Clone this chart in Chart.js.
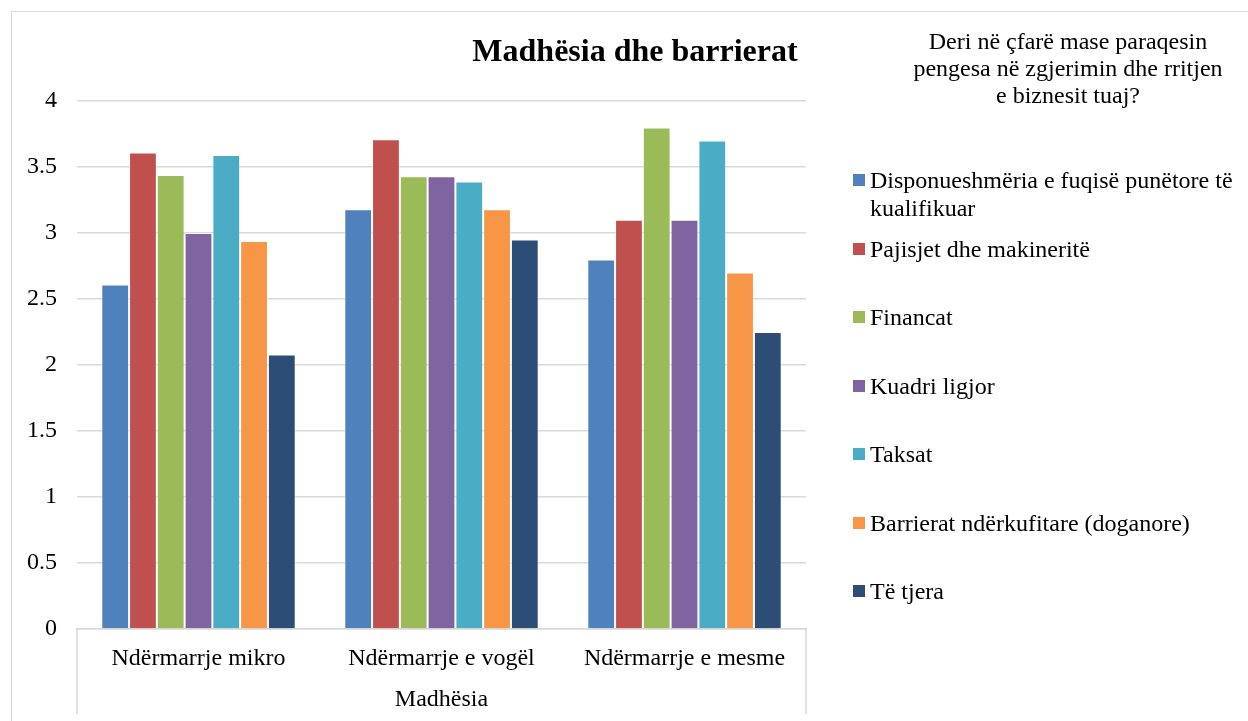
<!DOCTYPE html>
<html>
<head>
<meta charset="utf-8">
<script src="https://cdn.jsdelivr.net/npm/chart.js@4/dist/chart.umd.min.js"></script>
<style>
  html, body { margin: 0; padding: 0; background: #fff; }
  #wrap { position: relative; width: 1248px; height: 721px; overflow: hidden; background: #fff; }
  #frame { position: absolute; left: 11px; top: 11px; width: 1300px; height: 800px;
           border-top: 1px solid #d9d9d9; border-left: 1px solid #d9d9d9; box-sizing: border-box; }
  canvas { position: absolute; left: 0; top: 0; }
  #title { position: absolute; left: 385px; width: 500px; top: 31px; text-align: center;
           font: bold 32px "Liberation Serif", "Times New Roman", serif; color: #000; line-height: 38px; white-space: nowrap; }
  #legTitle { position: absolute; left: 910px; width: 316px; top: 28px; text-align: center;
              font: 24px "Liberation Serif", "Times New Roman", serif; color: #000; line-height: 27px; }
  .li { position: absolute; left: 853px; width: 395px; font: 24px "Liberation Serif", "Times New Roman", serif;
        color: #000; line-height: 28px; }
  .li .sw { position: absolute; left: 0; top: 8px; width: 12px; height: 12px; }
  .li .tx { margin-left: 17px; width: 375px; }
</style>
</head>
<body>
<div id="wrap">
  <div id="frame"></div>
  <canvas id="c" width="1248" height="721"></canvas>
  <div id="title"></div>
  <div id="legTitle"></div>
  <div id="legend"></div>
</div>
<script>
const chartTitle = "Madhësia dhe barrierat";
const legendTitle = "Deri në çfarë mase paraqesin pengesa në zgjerimin dhe rritjen e biznesit tuaj?";
const axisTitle = "Madhësia";
const categories = ["Ndërmarrje mikro", "Ndërmarrje e vogël", "Ndërmarrje e mesme"];
const seriesNames = [
  "Disponueshmëria e fuqisë punëtore të kualifikuar",
  "Pajisjet dhe makineritë",
  "Financat",
  "Kuadri ligjor",
  "Taksat",
  "Barrierat ndërkufitare (doganore)",
  "Të tjera"
];
const fuqia     = [2.61, 3.18, 2.80];
const pajisjet  = [3.61, 3.71, 3.10];
const financat  = [3.44, 3.43, 3.80];
const kuadri    = [3.00, 3.43, 3.10];
const taksat    = [3.59, 3.39, 3.70];
const barrierat = [2.94, 3.18, 2.70];
const tjera     = [2.08, 2.95, 2.25];
const yTicks = [0, 0.5, 1, 1.5, 2, 2.5, 3, 3.5, 4];

const seriesValues = [fuqia, pajisjet, financat, kuadri, taksat, barrierat, tjera];
const colors = ["#4F81BD", "#C0504D", "#9BBB59", "#8064A2", "#4BACC6", "#F79646", "#2C4D75"];
const serif = '"Liberation Serif", "Times New Roman", serif';

document.getElementById('title').textContent = chartTitle;
document.getElementById('legTitle').textContent = legendTitle;

const extraLines = {
  id: 'extraLines',
  afterDraw(chart) {
    const {ctx, chartArea} = chart;
    ctx.save();
    ctx.strokeStyle = '#d9d9d9';
    ctx.lineWidth = 1.5;
    ctx.beginPath();
    ctx.moveTo(chartArea.left, chartArea.bottom);
    ctx.lineTo(chartArea.left, 714);
    ctx.moveTo(chartArea.right, chartArea.bottom);
    ctx.lineTo(chartArea.right, 714);
    ctx.stroke();
    ctx.restore();
  }
};

const chart = new Chart(document.getElementById('c'), {
  type: 'bar',
  data: {
    labels: categories,
    datasets: seriesNames.map((n, i) => ({
      label: n,
      data: seriesValues[i],
      backgroundColor: colors[i],
      borderColor: 'rgba(255,255,255,0.45)',
      borderWidth: 1,
      categoryPercentage: 0.8,
      barPercentage: 1.0
    }))
  },
  options: {
    responsive: false,
    devicePixelRatio: 1,
    animation: false,
    layout: { padding: { left: 11, right: 442, top: 101, bottom: 0 } },
    plugins: {
      legend: { display: false },
      title: { display: false },
      tooltip: { enabled: false }
    },
    scales: {
      x: {
        grid: { display: false, drawTicks: false },
        border: { display: true, color: '#d9d9d9', width: 1.5 },
        ticks: { color: '#000', font: { family: serif, size: 24 }, padding: 15, maxRotation: 0 },
        title: { display: true, text: axisTitle, color: '#000', font: { family: serif, size: 24 }, padding: { top: 0, bottom: 7 } },
        afterFit(s) { s.height = 92; }
      },
      y: {
        min: 0, max: 4,
        afterBuildTicks(s) { s.ticks = yTicks.map(v => ({ value: v })); },
        grid: { color: '#d9d9d9', lineWidth: 1.5, drawTicks: false },
        border: { display: false },
        ticks: { color: '#000', font: { family: serif, size: 24 }, padding: 20, callback: v => String(v) },
        afterFit(s) { s.width = 66; }
      }
    }
  },
  plugins: [extraLines]
});

const leg = document.getElementById('legend');
chart.data.datasets.forEach((ds, i) => {
  const d = document.createElement('div');
  d.className = 'li';
  d.style.top = (166 + 68.5 * i) + 'px';
  const sw = document.createElement('div');
  sw.className = 'sw';
  sw.style.background = ds.backgroundColor;
  const tx = document.createElement('div');
  tx.className = 'tx';
  tx.textContent = ds.label;
  d.appendChild(sw); d.appendChild(tx);
  leg.appendChild(d);
});
</script>
</body>
</html>
